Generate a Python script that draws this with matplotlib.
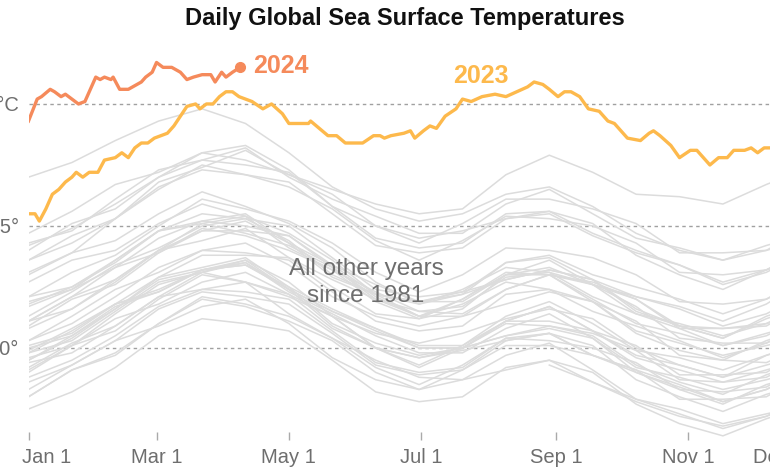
import matplotlib.pyplot as plt
from matplotlib.transforms import ScaledTranslation

plt.rcParams['font.family'] = ['Liberation Sans', 'DejaVu Sans']

# dia del año (0 = 1 ene) de las muestras de los años grises
DAYS = [0, 20, 40, 60, 80, 100, 120, 140, 160, 180, 200, 220, 240, 260, 280, 300, 320, 340, 360]
DAYS_1981 = [240, 260, 280, 300, 320, 340, 360]   # la serie empieza en sep 1981

sst_1981 = [19.93, 19.86, 19.78, 19.72, 19.68, 19.72, 19.79]
sst_1982 = [19.80, 19.91, 19.97, 20.10, 20.20, 20.17, 20.11, 20.03, 19.90, 19.83, 19.91, 20.01, 20.01, 19.97, 19.91, 19.79, 19.79, 19.80, 19.90]
sst_1983 = [19.94, 19.98, 20.09, 20.21, 20.24, 20.27, 20.14, 20.04, 19.95, 19.88, 19.87, 19.97, 20.02, 19.91, 19.79, 19.75, 19.69, 19.73, 19.77]
sst_1984 = [19.83, 19.93, 20.03, 20.09, 20.17, 20.20, 20.10, 19.96, 19.87, 19.83, 19.87, 19.91, 19.95, 19.90, 19.77, 19.69, 19.64, 19.71, 19.77]
sst_1985 = [19.75, 19.82, 19.92, 20.05, 20.12, 20.10, 20.07, 19.95, 19.82, 19.78, 19.80, 19.92, 19.95, 19.86, 19.79, 19.73, 19.67, 19.72, 19.81]
sst_1986 = [19.80, 19.91, 19.98, 20.10, 20.21, 20.18, 20.13, 20.04, 19.92, 19.85, 19.93, 20.04, 20.03, 20.00, 19.94, 19.83, 19.82, 19.84, 19.94]
sst_1987 = [19.96, 20.01, 20.14, 20.26, 20.31, 20.35, 20.24, 20.15, 20.08, 20.01, 20.01, 20.13, 20.19, 20.10, 19.99, 19.96, 19.91, 19.97, 20.02]
sst_1988 = [19.99, 20.08, 20.18, 20.24, 20.32, 20.34, 20.24, 20.09, 20.00, 19.96, 19.99, 20.03, 20.06, 20.01, 19.87, 19.80, 19.74, 19.81, 19.86]
sst_1989 = [19.86, 19.93, 20.03, 20.16, 20.23, 20.21, 20.18, 20.06, 19.93, 19.89, 19.91, 20.03, 20.06, 19.97, 19.90, 19.84, 19.78, 19.83, 19.92]
sst_1990 = [19.92, 20.02, 20.09, 20.21, 20.31, 20.27, 20.22, 20.13, 20.00, 19.92, 20.00, 20.10, 20.09, 20.06, 19.99, 19.87, 19.86, 19.88, 19.97]
sst_1991 = [19.98, 20.03, 20.15, 20.27, 20.31, 20.36, 20.24, 20.15, 20.07, 20.00, 20.00, 20.11, 20.17, 20.07, 19.97, 19.93, 19.88, 19.93, 19.98]
sst_1992 = [19.98, 20.07, 20.18, 20.23, 20.32, 20.34, 20.25, 20.10, 20.02, 19.97, 20.00, 20.05, 20.08, 20.04, 19.90, 19.83, 19.77, 19.85, 19.90]
sst_1993 = [19.88, 19.95, 20.05, 20.17, 20.24, 20.23, 20.20, 20.07, 19.94, 19.90, 19.92, 20.04, 20.06, 19.97, 19.91, 19.85, 19.78, 19.83, 19.92]
sst_1994 = [19.90, 20.01, 20.07, 20.20, 20.30, 20.27, 20.21, 20.13, 20.00, 19.93, 20.01, 20.11, 20.11, 20.07, 20.01, 19.89, 19.89, 19.90, 20.00]
sst_1995 = [20.00, 20.05, 20.16, 20.28, 20.32, 20.35, 20.23, 20.14, 20.05, 19.98, 19.98, 20.08, 20.14, 20.04, 19.92, 19.88, 19.83, 19.87, 19.92]
sst_1996 = [19.91, 20.01, 20.12, 20.18, 20.27, 20.31, 20.22, 20.08, 20.00, 19.96, 20.00, 20.05, 20.09, 20.05, 19.93, 19.86, 19.81, 19.89, 19.95]
sst_1997 = [19.95, 20.04, 20.16, 20.29, 20.38, 20.38, 20.37, 20.25, 20.14, 20.12, 20.16, 20.30, 20.33, 20.26, 20.21, 20.17, 20.11, 20.18, 20.29]
sst_1998 = [20.27, 20.36, 20.40, 20.51, 20.59, 20.54, 20.47, 20.36, 20.22, 20.13, 20.18, 20.27, 20.24, 20.19, 20.11, 19.97, 19.95, 19.94, 20.02]
sst_1999 = [20.01, 20.06, 20.18, 20.29, 20.33, 20.37, 20.25, 20.16, 20.08, 20.00, 20.00, 20.11, 20.17, 20.07, 19.96, 19.91, 19.86, 19.91, 19.96]
sst_2000 = [19.95, 20.05, 20.17, 20.23, 20.32, 20.36, 20.27, 20.13, 20.06, 20.02, 20.06, 20.12, 20.16, 20.12, 20.00, 19.93, 19.88, 19.97, 20.03]
sst_2001 = [20.03, 20.10, 20.21, 20.33, 20.40, 20.39, 20.36, 20.23, 20.11, 20.07, 20.09, 20.22, 20.24, 20.15, 20.09, 20.03, 19.96, 20.02, 20.11]
sst_2002 = [20.09, 20.20, 20.26, 20.39, 20.49, 20.46, 20.40, 20.32, 20.19, 20.12, 20.20, 20.30, 20.30, 20.26, 20.20, 20.08, 20.08, 20.09, 20.19]
sst_2003 = [20.19, 20.24, 20.36, 20.48, 20.52, 20.55, 20.43, 20.34, 20.26, 20.19, 20.19, 20.30, 20.36, 20.26, 20.14, 20.10, 20.05, 20.10, 20.15]
sst_2004 = [20.13, 20.23, 20.34, 20.41, 20.50, 20.53, 20.44, 20.30, 20.22, 20.19, 20.23, 20.28, 20.32, 20.28, 20.15, 20.09, 20.04, 20.12, 20.18]
sst_2005 = [20.17, 20.24, 20.33, 20.45, 20.52, 20.50, 20.46, 20.33, 20.20, 20.15, 20.17, 20.29, 20.31, 20.21, 20.14, 20.08, 20.01, 20.05, 20.14]
sst_2006 = [20.11, 20.21, 20.28, 20.40, 20.51, 20.47, 20.42, 20.33, 20.21, 20.13, 20.20, 20.31, 20.30, 20.27, 20.20, 20.09, 20.08, 20.10, 20.19]
sst_2007 = [20.21, 20.25, 20.36, 20.48, 20.51, 20.54, 20.41, 20.32, 20.23, 20.15, 20.14, 20.24, 20.30, 20.19, 20.07, 20.02, 19.97, 20.01, 20.05]
sst_2008 = [20.03, 20.13, 20.24, 20.31, 20.40, 20.43, 20.34, 20.21, 20.13, 20.09, 20.13, 20.18, 20.23, 20.19, 20.06, 19.99, 19.95, 20.03, 20.09]
sst_2009 = [20.08, 20.16, 20.27, 20.40, 20.48, 20.48, 20.46, 20.34, 20.22, 20.19, 20.22, 20.35, 20.38, 20.30, 20.25, 20.20, 20.14, 20.20, 20.30]
sst_2010 = [20.30, 20.39, 20.44, 20.55, 20.64, 20.58, 20.51, 20.41, 20.27, 20.18, 20.24, 20.33, 20.31, 20.26, 20.17, 20.04, 20.02, 20.02, 20.10]
sst_2011 = [20.11, 20.16, 20.28, 20.40, 20.44, 20.49, 20.37, 20.28, 20.20, 20.13, 20.13, 20.24, 20.30, 20.20, 20.10, 20.06, 20.01, 20.06, 20.11]
sst_2012 = [20.11, 20.21, 20.33, 20.39, 20.48, 20.52, 20.43, 20.29, 20.22, 20.18, 20.22, 20.28, 20.32, 20.28, 20.16, 20.09, 20.04, 20.13, 20.19]
sst_2013 = [20.18, 20.25, 20.35, 20.48, 20.55, 20.53, 20.50, 20.37, 20.24, 20.21, 20.23, 20.35, 20.37, 20.28, 20.21, 20.16, 20.09, 20.14, 20.23]
sst_2014 = [20.21, 20.31, 20.38, 20.50, 20.61, 20.57, 20.52, 20.43, 20.31, 20.23, 20.30, 20.41, 20.40, 20.37, 20.30, 20.19, 20.18, 20.20, 20.29]
sst_2015 = [20.31, 20.39, 20.53, 20.68, 20.74, 20.81, 20.71, 20.65, 20.59, 20.55, 20.57, 20.71, 20.79, 20.72, 20.63, 20.62, 20.59, 20.67, 20.74]
sst_2016 = [20.70, 20.76, 20.85, 20.93, 20.98, 20.92, 20.80, 20.66, 20.57, 20.52, 20.55, 20.63, 20.66, 20.58, 20.47, 20.40, 20.36, 20.40, 20.45]
sst_2017 = [20.42, 20.49, 20.59, 20.70, 20.77, 20.75, 20.72, 20.58, 20.45, 20.41, 20.43, 20.55, 20.56, 20.47, 20.40, 20.34, 20.26, 20.31, 20.40]
sst_2018 = [20.36, 20.46, 20.53, 20.65, 20.75, 20.71, 20.66, 20.57, 20.44, 20.36, 20.44, 20.54, 20.53, 20.50, 20.43, 20.31, 20.30, 20.32, 20.41]
sst_2019 = [20.43, 20.48, 20.61, 20.73, 20.77, 20.82, 20.70, 20.61, 20.54, 20.47, 20.47, 20.59, 20.65, 20.55, 20.45, 20.41, 20.36, 20.42, 20.47]
sst_2020 = [20.47, 20.56, 20.67, 20.72, 20.80, 20.83, 20.73, 20.58, 20.50, 20.45, 20.48, 20.53, 20.56, 20.51, 20.38, 20.30, 20.24, 20.32, 20.37]
sst_2021 = [20.36, 20.43, 20.53, 20.66, 20.73, 20.71, 20.68, 20.55, 20.42, 20.39, 20.41, 20.53, 20.55, 20.46, 20.39, 20.34, 20.27, 20.32, 20.41]
sst_2022 = [20.40, 20.51, 20.57, 20.70, 20.80, 20.77, 20.71, 20.63, 20.50, 20.43, 20.51, 20.61, 20.61, 20.57, 20.51, 20.39, 20.39, 20.40, 20.50]

days_2023 = [0, 3, 5, 8, 11, 14, 17, 20, 22, 25, 28, 32, 35, 40, 43, 46, 49, 52, 55, 58,
             61, 64, 67, 70, 73, 77, 79, 82, 85, 88, 91, 94, 97, 103, 108, 112, 117, 120, 129, 130,
             134, 138, 142, 146, 149, 154, 159, 162, 164, 167, 173, 176, 178, 182, 185, 188, 192, 197, 200, 204,
             209, 215, 220, 225, 230, 233, 237, 240, 244, 247, 250, 254, 258, 263, 267, 270, 273, 276, 282, 286,
             288, 291, 296, 300, 305, 308, 311, 314, 318, 322, 325, 330, 333, 336, 339, 342]
sst_2023 = [20.55, 20.55, 20.52, 20.57, 20.63, 20.65, 20.68, 20.70, 20.72, 20.70, 20.72, 20.72, 20.77, 20.78, 20.80, 20.78, 20.82, 20.84, 20.84, 20.86,
            20.87, 20.88, 20.91, 20.95, 20.99, 21.00, 20.98, 21.00, 21.00, 21.03, 21.05, 21.05, 21.03, 21.01, 20.98, 21.00, 20.96, 20.92, 20.92, 20.93,
            20.90, 20.87, 20.87, 20.84, 20.84, 20.84, 20.87, 20.87, 20.86, 20.87, 20.88, 20.89, 20.86, 20.89, 20.91, 20.90, 20.95, 20.98, 21.02, 21.01,
            21.03, 21.04, 21.03, 21.05, 21.07, 21.09, 21.08, 21.06, 21.03, 21.05, 21.05, 21.03, 20.98, 20.97, 20.93, 20.92, 20.89, 20.86, 20.85, 20.88,
            20.89, 20.87, 20.83, 20.78, 20.81, 20.81, 20.78, 20.75, 20.78, 20.78, 20.81, 20.81, 20.82, 20.80, 20.82, 20.82]

days_2024 = [0, 4, 6, 10, 12, 15, 17, 20, 23, 26, 31, 33, 35, 38, 39, 42, 46, 48, 52, 54,
             57, 59, 62, 66, 70, 73, 76, 80, 84, 86, 89, 91, 94, 97.5]
sst_2024 = [20.93, 21.02, 21.03, 21.06, 21.05, 21.03, 21.04, 21.02, 21.00, 21.01, 21.11, 21.10, 21.11, 21.10, 21.11, 21.06, 21.06, 21.07, 21.09, 21.11,
            21.13, 21.17, 21.15, 21.15, 21.13, 21.10, 21.11, 21.12, 21.12, 21.09, 21.13, 21.11, 21.13, 21.15]

MONTH_DAYS   = [0, 59, 120, 181, 243, 304, 334]
MONTH_LABELS = ['Jan 1', 'Mar 1', 'May 1', 'Jul 1', 'Sep 1', 'Nov 1', 'Dec 1']
Y_TICKS  = [20.0, 20.5, 21.0]
Y_LABELS = ['20°', '20.5°', '21°C']

other_years = [(DAYS_1981, sst_1981)] + [(DAYS, s) for s in [
    sst_1982, sst_1983, sst_1984, sst_1985, sst_1986, sst_1987, sst_1988, sst_1989, sst_1990,
    sst_1991, sst_1992, sst_1993, sst_1994, sst_1995, sst_1996, sst_1997, sst_1998, sst_1999, sst_2000,
    sst_2001, sst_2002, sst_2003, sst_2004, sst_2005, sst_2006, sst_2007, sst_2008, sst_2009, sst_2010,
    sst_2011, sst_2012, sst_2013, sst_2014, sst_2015, sst_2016, sst_2017, sst_2018, sst_2019, sst_2020,
    sst_2021, sst_2022]]

C_2024 = '#f58a5b'
C_2023 = '#fdb94c'
C_GRAY = '#dcdcdc'
C_TEXT = '#6e6e6e'

fig = plt.figure(figsize=(7.7, 4.7), dpi=100)
ax = fig.add_axes([28.5 / 770, 30 / 470, 1 - 28.5 / 770, 440 / 470])
ax.set_xlim(0, 341.7)
ax.set_ylim(19.623, 21.426)

for y in Y_TICKS:
    ax.axhline(y, color='#a0a0a0', lw=1.0, ls=(0, (2.5, 2.5)), zorder=1)

for d, s in other_years:
    ax.plot(d, s, color=C_GRAY, lw=1.1, zorder=2, solid_joinstyle='round')

ax.plot(days_2023, sst_2023, color=C_2023, lw=2.4, zorder=3, solid_joinstyle='round')
ax.plot(days_2024, sst_2024, color=C_2024, lw=2.4, zorder=4, solid_joinstyle='round')
ax.plot(days_2024[-1], sst_2024[-1], 'o', color=C_2024, ms=7, zorder=5)

ax.text(103.5, 21.156, '2024', color=C_2024, fontsize=18, fontweight='bold', ha='left', va='center')
ax.text(208.5, 21.113, '2023', color=C_2023, fontsize=18, fontweight='bold', ha='center', va='center')
ax.text(155.5, 20.27, 'All other years\nsince 1981', color=C_TEXT, fontsize=17.5,
        ha='center', va='center', linespacing=1.3, zorder=6)

# ejes
for sp in ax.spines.values():
    sp.set_visible(False)
ax.set_xticks(MONTH_DAYS, MONTH_LABELS)
ax.set_yticks(Y_TICKS, Y_LABELS)
ax.tick_params(axis='x', direction='in', length=6, width=1, color='#aaaaaa',
               labelcolor=C_TEXT, labelsize=14.5, pad=6)
ax.tick_params(axis='y', length=0, labelcolor=C_TEXT, labelsize=14.5, pad=7)
ax.xaxis.get_major_ticks()[-1].tick1line.set_visible(False)
xl = ax.get_xticklabels()
xl[0].set_ha('left')
xl[0].set_transform(xl[0].get_transform() + ScaledTranslation(-6.5 / 100, 0, fig.dpi_scale_trans))
xl[-1].set_ha('left')

fig.text(405 / 770, 1 - 18 / 470, 'Daily Global Sea Surface Temperatures', fontsize=17,
         fontweight='bold', ha='center', va='center', color='#111111')

fig.savefig('out.png', dpi=100)
